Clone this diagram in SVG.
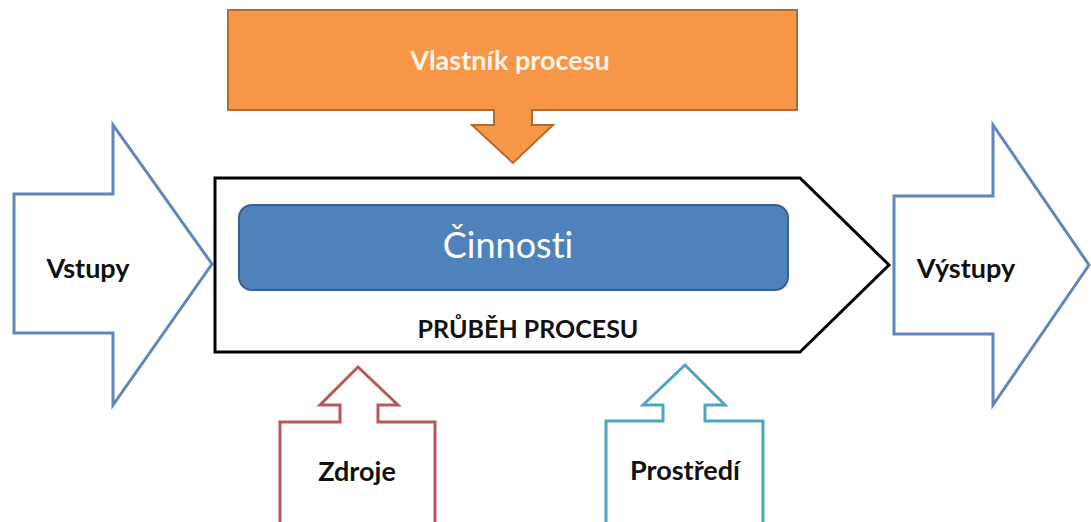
<svg xmlns="http://www.w3.org/2000/svg" width="1091" height="522" viewBox="0 0 1091 522">
  <style>
    text { font-variant-ligatures: none; }
    .lbl { font-family: Lato, "Open Sans", "Liberation Sans", sans-serif; font-weight: bold; font-size: 27px; fill: #111; text-anchor: middle; }
    .io { fill: #ffffff; stroke: #5f87b8; stroke-width: 3; stroke-linejoin: miter; }
    .res { fill: #ffffff; stroke: #b9585b; stroke-width: 3; }
    .env { fill: #ffffff; stroke: #4aa7bd; stroke-width: 3; }
  </style>
  <rect width="1091" height="522" fill="#ffffff"/>

  <!-- Inputs arrow -->
  <g id="vstupy">
    <polygon class="io" points="14,194 113,194 113,125 212,264 113,405 113,333 14,333"/>
    <text class="lbl" x="88" y="278">Vstupy</text>
  </g>

  <!-- Process owner block with down arrow -->
  <g id="vlastnik">
    <polygon points="228,10 797,10 797,110 532,110 532,125 553,125 513,163 472,125 494,125 494,110 228,110"
             fill="#f79646" stroke="#b5692f" stroke-width="2"/>
    <text class="lbl" x="510" y="70" style="fill:#fdf3e8">Vlastník procesu</text>
  </g>

  <!-- Process flow pentagon -->
  <g id="prubeh">
    <polygon points="215,178 800,178 889,265 800,352 215,352" fill="#ffffff" stroke="#000000" stroke-width="3"/>
    <text class="lbl" x="528" y="338" style="font-size:25px">PRŮBĚH PROCESU</text>
  </g>

  <!-- Activities -->
  <g id="cinnosti">
    <rect x="239" y="205" width="549" height="85" rx="13" ry="13" fill="#4f81bd" stroke="#3a5f8c" stroke-width="2"/>
    <text x="508" y="258" text-anchor="middle" font-family="Lato, 'Open Sans', 'Liberation Sans', sans-serif" font-size="36" fill="#ffffff">Činnosti</text>
  </g>

  <!-- Outputs arrow -->
  <g id="vystupy">
    <polygon class="io" points="894,196 993,196 993,125 1089,265 993,405 993,334 894,334"/>
    <text class="lbl" x="966" y="278">Výstupy</text>
  </g>

  <!-- Resources -->
  <g id="zdroje">
    <polygon class="res" points="280,524 280,422 340,422 340,405 320,405 358,367 398,405 378,405 378,422 435,422 435,524"/>
    <text class="lbl" x="357" y="481">Zdroje</text>
  </g>

  <!-- Environment -->
  <g id="prostredi">
    <polygon class="env" points="606,524 606,421 663,421 663,405 643,405 685,365 725,405 705,405 705,421 763,421 763,524"/>
    <text class="lbl" x="685" y="480">Prostředí</text>
  </g>

  <g id="connectors"/>
</svg>
